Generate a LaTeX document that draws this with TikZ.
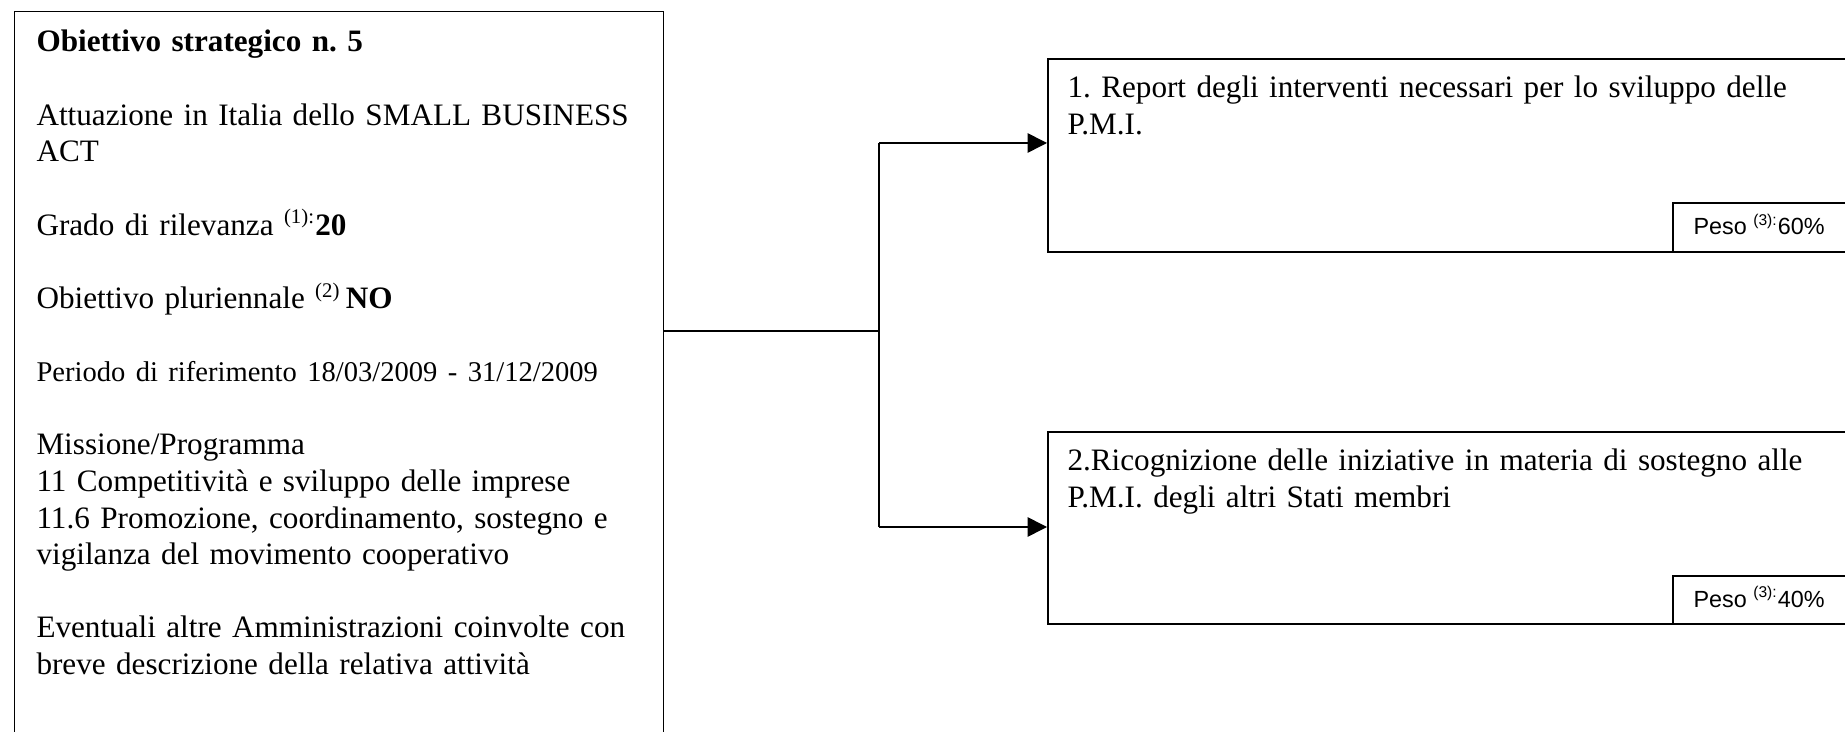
\documentclass[tikz,border=0pt]{standalone}
\usepackage{fontspec}
\setmainfont{Liberation Serif}
\newfontfamily\pesofont{Liberation Sans}
\usetikzlibrary{arrows.meta}
\newcommand\pxu{0.385pt}
\frenchspacing
\begin{document}
\begin{tikzpicture}[x=0.385pt,y=-0.385pt,
 box/.style={draw,line width=0.75pt,inner sep=0pt,anchor=north west},
 txt/.style={anchor=base west,inner sep=0pt,align=left,font=\fontsize{12}{14.1}\selectfont},
 pesotxt/.style={anchor=base west,inner sep=0pt,font=\pesofont\fontsize{9}{10}\selectfont},
 link/.style={line width=0.6pt},
 arr/.style={link,-{Triangle[length=7.5pt,width=7.5pt]}}]
 \useasboundingbox (0,0) rectangle (1845,732);
 \clip (0,0) rectangle (1845,732);
 %
 \node[box,line width=0.4pt,minimum width={649*\pxu},minimum height={760*\pxu}] (goal) at (14,11) {};
 \node[txt,text width={610*\pxu}] (goaltext) at (36,52) {\textbf{Obiettivo strategico n. 5}\\[14.1pt]
  Attuazione in Italia dello SMALL BUSINESS\\ ACT\\[14.1pt]
  Grado di rilevanza \textsuperscript{(1):}\textbf{20}\\[14.1pt]
  Obiettivo pluriennale \textsuperscript{(2)}\,\textbf{NO}\\[14.1pt]
  {\fontsize{11}{14.1}\selectfont Periodo di riferimento 18/03/2009 - 31/12/2009}\\[14.1pt]
  Missione/Programma\\
  11 Competitività e sviluppo delle imprese\\
  11.6 Promozione, coordinamento, sostegno e\\
  vigilanza del movimento cooperativo\\[14.1pt]
  Eventuali altre Amministrazioni coinvolte con\\
  breve descrizione della relativa attività};
 %
 \node[box,minimum width={830*\pxu},minimum height={193*\pxu}] (act1) at (1047,58) {};
 \node[txt,text width={760*\pxu}] (act1text) at (1067,98) {1. Report degli interventi necessari per lo sviluppo delle\\ P.M.I.};
 \node[box,line width=0.6pt,minimum width={200*\pxu},minimum height={49*\pxu}] (peso1) at (1672,202) {};
 \node[pesotxt] (peso1text) at (1693,235) {Peso \textsuperscript{(3):}60\%};
 %
 \node[box,minimum width={830*\pxu},minimum height={192*\pxu}] (act2) at (1047,431) {};
 \node[txt,text width={760*\pxu}] (act2text) at (1067,471) {2.Ricognizione delle iniziative in materia di sostegno alle\\ P.M.I. degli altri Stati membri};
 \node[box,line width=0.6pt,minimum width={200*\pxu},minimum height={48*\pxu}] (peso2) at (1672,575) {};
 \node[pesotxt] (peso2text) at (1693,607) {Peso \textsuperscript{(3):}40\%};
 %
 \coordinate (branch) at (879,331);
 \coordinate (in1) at (1047,143);
 \coordinate (in2) at (1047,527);
 \draw[link] (goal.east |- branch) -- (branch);
 \draw[link] (branch |- in1) -- (branch |- in2);
 \draw[arr] (branch |- in1) -- (in1);
 \draw[arr] (branch |- in2) -- (in2);
\end{tikzpicture}
\end{document}
